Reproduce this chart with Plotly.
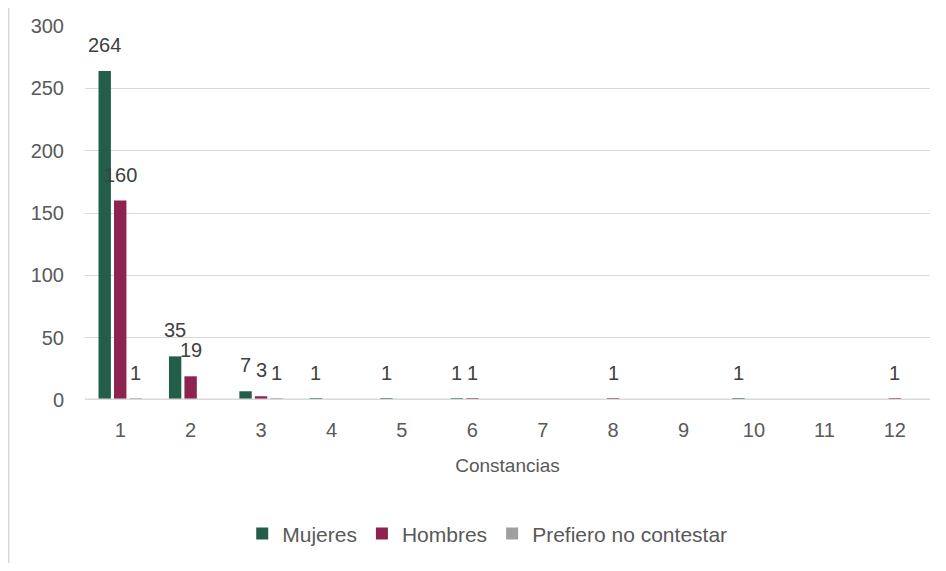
import plotly.graph_objects as go

categories = ["1", "2", "3", "4", "5", "6", "7", "8", "9", "10", "11", "12"]
mujeres = [264, 35, 7, 1, 1, 1, None, None, None, 1, None, None]
hombres = [160, 19, 3, None, None, 1, None, 1, None, None, None, 1]
prefiero = [1, None, 1, None, None, None, None, None, None, None, None, None]

series = [
    ("Mujeres", mujeres, "#235E4B"),
    ("Hombres", hombres, "#8E2350"),
    ("Prefiero no contestar", prefiero, "#A0A0A0"),
]

FONT = "Liberation Sans"
W, H = 930, 555
ML, MR, MT, MB = 77, 8, 18, 163
BARGAP, GROUPGAP = 0.34, 0.2

fig = go.Figure()
for name, vals, color in series:
    fig.add_trace(go.Bar(
        x=categories, y=vals, name=name,
        marker=dict(color=color, line=dict(width=0)),
        cliponaxis=False,
    ))

# data labels placed above each bar of the group
plot_w = W - ML - MR
cat_w = plot_w / len(categories)
slot = (1 - BARGAP) * cat_w / len(series)
annotations = []
for i, (name, vals, color) in enumerate(series):
    off = (i - (len(series) - 1) / 2) * slot
    for idx, v in enumerate(vals):
        if v is None:
            continue
        annotations.append(dict(
            x=idx, y=v, xref="x", yref="y", text=str(v), showarrow=False,
            xshift=off, yshift=26, yanchor="middle", xanchor="center",
            font=dict(size=20, color="#404040", family=FONT),
        ))

fig.update_layout(
    width=W, height=H,
    margin=dict(l=ML, r=MR, t=MT, b=MB, autoexpand=False),
    plot_bgcolor="white", paper_bgcolor="white",
    barmode="group", bargap=BARGAP, bargroupgap=GROUPGAP,
    font=dict(family=FONT, color="#595959", size=20),
    xaxis=dict(
        type="category", automargin=False, range=[-0.5, len(categories) - 0.5],
        showgrid=False, showline=False,
        ticks="", tickfont=dict(size=20, color="#595959"), ticklabelstandoff=16,
        title=dict(text="Constancias", font=dict(size=19, color="#595959"), standoff=18),
    ),
    yaxis=dict(
        range=[0, 300], dtick=50, showgrid=True, gridcolor="#D9D9D9", gridwidth=1,
        zeroline=False, showline=False, ticks="", ticklen=0, automargin=False,
        tickfont=dict(size=20, color="#595959"), ticklabelstandoff=20,
    ),
    legend=dict(
        orientation="h", x=0.476, xanchor="center", y=-0.358, yanchor="middle",
        font=dict(size=21, color="#595959"), itemwidth=30, traceorder="normal",
    ),
    annotations=annotations,
    shapes=[
        dict(type="line", xref="paper", yref="paper",
             x0=-0.0905, x1=-0.0905, y0=-0.5, y1=1.1,
             line=dict(color="#D9D9D9", width=2)),
        dict(type="line", xref="paper", yref="y", x0=0, x1=1, y0=0, y1=0,
             layer="above", line=dict(color="#D9D9D9", width=3)),
    ],
)

fig.write_html("out.html")
